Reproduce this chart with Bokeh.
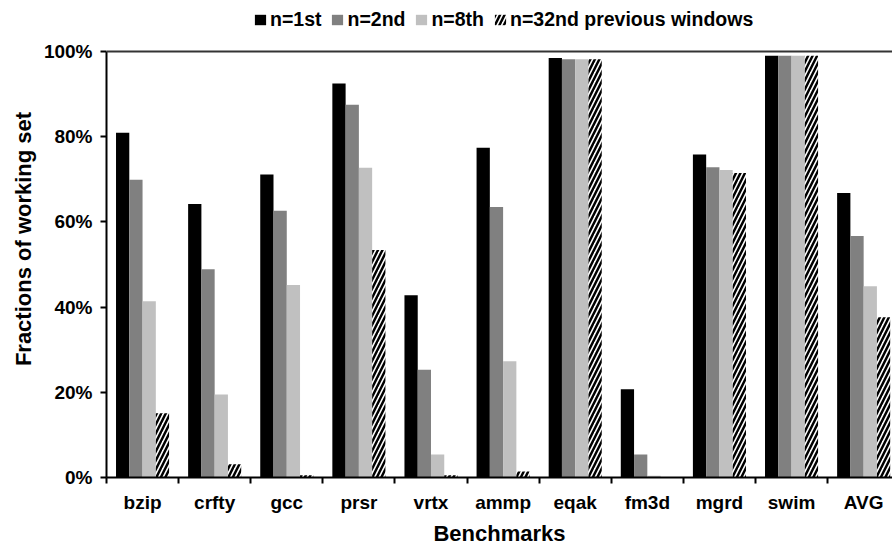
from bokeh.plotting import figure
from bokeh.models import (ColumnDataSource, Range1d, FixedTicker, PrintfTickFormatter,
                          Legend, LegendItem, Span)
from bokeh.transform import dodge
from bokeh.embed import file_html
from bokeh.resources import INLINE

benchmarks = ["bzip", "crfty", "gcc", "prsr", "vrtx", "ammp", "eqak", "fm3d", "mgrd", "swim", "AVG"]
n1st = [80.9, 64.2, 71.1, 92.5, 42.8, 77.4, 98.5, 20.7, 75.8, 99.0, 66.8]
n2nd = [69.9, 48.9, 62.6, 87.5, 25.3, 63.5, 98.2, 5.4, 72.8, 99.0, 56.7]
n8th = [41.4, 19.5, 45.2, 72.7, 5.4, 27.3, 98.2, 0.4, 72.2, 99.0, 44.9]
n32nd = [15.1, 3.1, 0.5, 53.4, 0.5, 1.4, 98.2, 0.0, 71.5, 99.0, 37.6]
series_labels = ["n=1st", "n=2nd", "n=8th", "n=32nd previous windows"]
yticks = [0, 20, 40, 60, 80, 100]

FONT = "Liberation Sans"

src = ColumnDataSource(dict(x=list(range(len(benchmarks))), a=n1st, b=n2nd, c=n8th, d=n32nd))

p = figure(width=892, height=548, output_backend="svg", toolbar_location=None,
           x_range=Range1d(-0.5, 10.4), y_range=Range1d(0, 111.97),
           min_border_left=106, min_border_right=0, min_border_top=0, min_border_bottom=71)
p.outline_line_color = None
p.xgrid.visible = False
p.ygrid.visible = False

w = 0.184
r1 = p.vbar(x=dodge("x", -1.5 * w, range=p.x_range), top="a", width=w, source=src,
            fill_color="#000000", line_color=None)
r2 = p.vbar(x=dodge("x", -0.5 * w, range=p.x_range), top="b", width=w, source=src,
            fill_color="#808080", line_color=None)
r3 = p.vbar(x=dodge("x", 0.5 * w, range=p.x_range), top="c", width=w, source=src,
            fill_color="#C0C0C0", line_color=None)
r4 = p.vbar(x=dodge("x", 1.5 * w, range=p.x_range), top="d", width=w, source=src,
            fill_color="#FFFFFF", line_color=None, hatch_pattern="/",
            hatch_color="#000000", hatch_weight=2.5, hatch_scale=9)

p.add_layout(Span(location=100, dimension="width", line_color="#333333", line_width=2))

# x axis
xa = p.xaxis[0]
xa.ticker = FixedTicker(ticks=list(range(len(benchmarks))),
                        minor_ticks=[i - 0.5 for i in range(len(benchmarks) + 1)])
xa.major_label_overrides = {i: b for i, b in enumerate(benchmarks)}
xa.major_tick_out = 0
xa.major_tick_in = 0
xa.minor_tick_out = 6
xa.minor_tick_in = 0
xa.minor_tick_line_color = "black"
xa.minor_tick_line_width = 2
xa.axis_line_width = 2
xa.axis_line_color = "black"
xa.major_label_text_font = FONT
xa.major_label_text_font_style = "bold"
xa.major_label_text_font_size = "19px"
xa.major_label_text_color = "black"
xa.major_label_standoff = 8
xa.axis_label = "Benchmarks"
xa.axis_label_text_font = FONT
xa.axis_label_text_font_style = "bold"
xa.axis_label_text_font_size = "22px"
xa.axis_label_text_color = "black"
xa.axis_label_standoff = 5

# y axis
ya = p.yaxis[0]
ya.bounds = (0, 100)
ya.ticker = FixedTicker(ticks=yticks, minor_ticks=[])
ya.formatter = PrintfTickFormatter(format="%d%%")
ya.major_tick_out = 6
ya.major_tick_in = 0
ya.major_tick_line_width = 2
ya.major_tick_line_color = "black"
ya.axis_line_width = 2
ya.axis_line_color = "black"
ya.major_label_text_font = FONT
ya.major_label_text_font_style = "bold"
ya.major_label_text_font_size = "19px"
ya.major_label_text_color = "black"
ya.major_label_standoff = 8
ya.axis_label = "Fractions of working set"
ya.axis_label_text_font = FONT
ya.axis_label_text_font_style = "bold"
ya.axis_label_text_font_size = "22px"
ya.axis_label_text_color = "black"
ya.axis_label_standoff = 5

legend = Legend(items=[LegendItem(label=series_labels[0], renderers=[r1]),
                       LegendItem(label=series_labels[1], renderers=[r2]),
                       LegendItem(label=series_labels[2], renderers=[r3]),
                       LegendItem(label=series_labels[3], renderers=[r4])],
                orientation="horizontal", location=(147, 446),
                border_line_color=None, background_fill_alpha=0,
                padding=0, margin=0, spacing=9, glyph_width=14, glyph_height=13,
                label_standoff=3, label_height=14,
                label_text_font=FONT, label_text_font_style="bold",
                label_text_font_size="19.5px", label_text_color="black")
p.add_layout(legend, "center")

open("out.html", "w").write(file_html(p, INLINE))
